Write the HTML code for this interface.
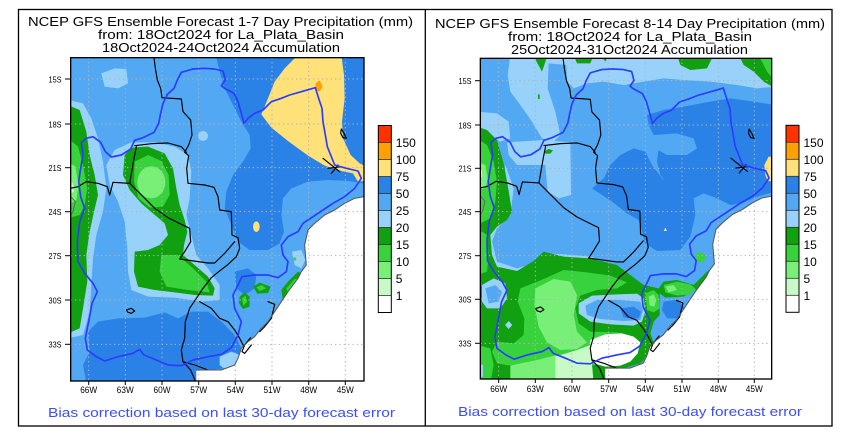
<!DOCTYPE html>
<html><head><meta charset="utf-8"><style>html,body{margin:0;padding:0;background:#fff;}svg{display:block}</style></head>
<body>
<svg xmlns="http://www.w3.org/2000/svg" xmlns:xlink="http://www.w3.org/1999/xlink" width="842" height="441" viewBox="0 0 842 441" font-family="'Liberation Sans', sans-serif">
<defs>
  <g id="coast">
    <path d="M888,425 L860,430 L830,445 L800,465 L770,480 L740,505 L720,525 L710,570 L715,630 L700,650 L690,670 L660,710 L640,740 L620,770 L600,800 L580,820 L560,845 L540,860 L520,880 L510,910 L500,930 L460,945 L420,945 L385,945 L385,985 L895,985 L895,425 Z" fill="#fff"/>
  </g>
  <g id="lines" fill="none" stroke-linejoin="round" stroke-linecap="round">
    <g stroke="#000" stroke-width="3.5">
      <path d="M258,8 L262,40 L268,75 L278,100 L282,128 L340,132 L345,170 L368,195 L372,240 L362,270 L350,292 L362,302 L356,340 L360,385 L410,390 L438,397 L450,425 L455,465 L490,470 L492,540 L510,548 L515,580 L505,605 L478,630 L452,650 L430,668 L405,700 L385,730 L365,760 L352,800 L350,850 L340,885 L345,920 L368,945 L382,978"/>
      <path d="M200,272 L250,266 L300,264 L340,275 L355,292"/>
      <path d="M205,275 L198,310 L192,345 L185,385"/>
      <path d="M185,385 L135,382 L125,420 L118,395 L90,385 L55,380 L30,395 L8,400"/>
      <path d="M185,385 L220,420 L260,460 L300,488 L340,508 L365,520 L368,560 L350,590 L335,612 L420,624 L440,624 L470,595 L500,560"/>
      <path d="M395,740 L430,760 L455,790 L480,800 L500,825 L515,850 L528,875"/>
      <path d="M345,920 L380,930 L420,945"/>
      <path d="M175,765 L190,760 L200,768 L190,775 L180,772 Z"/>
      <path d="M820,222 L828,235 L835,250 L825,248 L818,235 Z"/>
      <path d="M765,310 L815,350 M790,355 L810,330 M780,340 L820,335"/>
      <path d="M600,740 L620,748 L610,790 L590,815 L575,830"/>
      <path d="M548,848 L530,870 L522,890 L530,895 L550,870"/>
    </g>
    <path d="M888,425 L860,430 L830,445 L800,465 L770,480 L740,505 L720,525 L710,570 L715,630 L700,650 L690,670 L660,710 L640,740 L620,770 L600,800 L580,820 L560,845 L540,860 L520,880 L510,910 L500,930 L460,945 L420,945 L385,945" stroke="#555" stroke-width="3"/>
    <path d="M8,425 L22,440 L15,470 L8,480" stroke="#666" stroke-width="3"/>
    <g stroke="#2a3cff" stroke-width="5">
      <path d="M375,42 L340,52 L328,75 L318,100 L298,118 L285,145 L278,175 L272,205 L258,232 L225,248 L200,256 L188,282 L160,300 L130,306 L112,290 L98,262 L75,245 L55,250 L40,262 L45,300 L38,340 L32,380 L38,425 L50,460 L35,500 L28,560 L30,620 L50,655 L75,685 L88,710 L72,745 L62,800 L52,850 L58,885 L85,905 L110,918 L150,905 L195,895 L215,883 L228,900 L265,915 L300,930 L340,932 L375,915 L420,905 L460,898 L490,878 L510,840 L520,800 L500,760 L495,720 L510,690 L522,665 L560,660 L600,660 L630,668 L655,650 L660,620 L645,600 L640,570 L660,545 L690,530 L705,505 L735,485 L765,465 L795,445 L830,425 L860,400 L880,370 L870,348 L835,340 L800,330 L790,305 L778,275 L772,240 L765,200 L762,160 L752,130 L742,98"/>
      <path d="M742,98 L700,110 L665,120 L640,130 L610,140 L585,165 L560,175 L540,190 L528,205 L520,175 L510,140 L498,115 L470,100 L460,92 L472,75 L465,48 L440,42 L408,40 L375,42"/>
    </g>
  </g>
  <g id="cb">
    <rect x="0" y="0" width="13" height="17" fill="#ff3200"/>
    <rect x="0" y="17" width="13" height="17" fill="#ffa000"/>
    <rect x="0" y="34" width="13" height="17" fill="#ffe17a"/>
    <rect x="0" y="51" width="13" height="17" fill="#2a82e6"/>
    <rect x="0" y="68" width="13" height="17" fill="#52a8f2"/>
    <rect x="0" y="85" width="13" height="17" fill="#98d2fa"/>
    <rect x="0" y="102" width="13" height="17" fill="#10a010"/>
    <rect x="0" y="119" width="13" height="17" fill="#37d23c"/>
    <rect x="0" y="136" width="13" height="17" fill="#78f078"/>
    <rect x="0" y="153" width="13" height="17" fill="#c8fac8"/>
    <rect x="0" y="170" width="13" height="17" fill="#fff"/>
    <g stroke="#333" stroke-width="0.8">
      <line x1="0" y1="17" x2="13" y2="17"/><line x1="0" y1="34" x2="13" y2="34"/><line x1="0" y1="51" x2="13" y2="51"/>
      <line x1="0" y1="68" x2="13" y2="68"/><line x1="0" y1="85" x2="13" y2="85"/><line x1="0" y1="102" x2="13" y2="102"/>
      <line x1="0" y1="119" x2="13" y2="119"/><line x1="0" y1="136" x2="13" y2="136"/><line x1="0" y1="153" x2="13" y2="153"/>
      <line x1="0" y1="170" x2="13" y2="170"/>
    </g>
    <rect x="0" y="0" width="13" height="187" fill="none" stroke="#000" stroke-width="1"/>
    <g font-size="12" fill="#000">
      <text x="17.5" y="21.5">150</text><text x="17.5" y="38.5">100</text><text x="17.5" y="55.5">75</text>
      <text x="17.5" y="72.5">50</text><text x="17.5" y="89.5">25</text><text x="17.5" y="106.5">20</text>
      <text x="17.5" y="123.5">15</text><text x="17.5" y="140.5">10</text><text x="17.5" y="157.5">5</text>
      <text x="17.5" y="174.5">1</text>
    </g>
  </g>
</defs>

<!-- panel borders -->
<rect x="18.5" y="9.5" width="813.5" height="416.5" fill="none" stroke="#000" stroke-width="1.3"/>
<line x1="425.3" y1="9.5" x2="425.3" y2="426" stroke="#000" stroke-width="1.3"/>

<!-- titles -->
<g font-size="12.5" fill="#000" style="white-space:pre">
  <text x="28" y="26" textLength="385" lengthAdjust="spacingAndGlyphs">NCEP GFS Ensemble Forecast 1-7 Day Precipitation (mm)</text>
  <text x="98" y="39" textLength="246" lengthAdjust="spacingAndGlyphs">from: 18Oct2024   for La_Plata_Basin</text>
  <text x="102" y="52" textLength="238" lengthAdjust="spacingAndGlyphs">18Oct2024-24Oct2024 Accumulation</text>
  <text x="435" y="28" textLength="390" lengthAdjust="spacingAndGlyphs">NCEP GFS Ensemble Forecast 8-14 Day Precipitation (mm)</text>
  <text x="508" y="41" textLength="244" lengthAdjust="spacingAndGlyphs">from: 18Oct2024   for La_Plata_Basin</text>
  <text x="511" y="54" textLength="237" lengthAdjust="spacingAndGlyphs">25Oct2024-31Oct2024 Accumulation</text>
</g>
<g font-size="12.5" fill="#3a4dff">
  <text x="48" y="417" textLength="347" lengthAdjust="spacingAndGlyphs">Bias correction based on last 30-day forecast error</text>
  <text x="458" y="416" textLength="344" lengthAdjust="spacingAndGlyphs">Bias correction based on last 30-day forecast error</text>
</g>

<!-- LEFT MAP -->
<svg x="68" y="55" width="300" height="330" viewBox="0 0 900 990">
  <defs><clipPath id="c1"><rect x="8" y="8" width="880" height="970"/></clipPath></defs>
  <g clip-path="url(#c1)">
    <rect x="0" y="0" width="900" height="990" fill="#52a8f2"/>
    <!-- dark blue -->
    <path d="M445,8 L888,8 L888,385 L840,378 L780,375 L720,380 L670,400 L645,430 L640,480 L648,530 L635,565 L600,585 L545,585 L510,560 L490,510 L470,460 L475,410 L495,360 L525,320 L548,280 L545,240 L520,200 L495,150 L470,100 L455,50 Z" fill="#2a82e6"/>
    <path d="M60,830 L90,800 L150,790 L230,788 L290,772 L330,790 L370,770 L420,770 L460,800 L500,840 L520,880 L500,920 L470,940 L420,945 L385,945 L385,985 L55,985 L45,930 L65,890 Z" fill="#2a82e6"/>
    <path d="M500,650 L540,640 L565,660 L560,700 L530,720 L505,700 Z" fill="#2a82e6"/>
    <!-- light blue -->
    <path d="M100,55 L140,40 L175,42 L180,85 L150,100 L110,95 Z" fill="#98d2fa"/>
    <ellipse cx="405" cy="243" rx="15" ry="15" fill="#98d2fa"/>
    <path d="M0,135 L45,145 L70,190 L90,250 L105,320 L115,400 L105,470 L85,540 L75,610 L70,690 L65,770 L45,840 L0,850 Z" fill="#98d2fa"/>
    <path d="M115,330 L140,285 L190,262 L260,262 L320,275 L360,300 L370,350 L365,430 L355,480 L370,540 L385,600 L420,640 L455,690 L455,735 L400,740 L320,728 L240,725 L190,705 L180,650 L178,580 L170,500 L150,440 L125,390 Z" fill="#98d2fa"/>
    <path d="M455,905 L490,890 L515,900 L505,935 L470,942 L455,930 Z" fill="#98d2fa"/>
    <path d="M672,590 L700,585 L712,615 L700,640 L680,630 Z" fill="#98d2fa"/>
    <!-- left strip greens -->
    <path d="M0,150 L35,165 L55,230 L65,300 L80,360 L90,420 L78,470 L65,530 L55,600 L58,680 L45,760 L35,820 L0,835 Z" fill="#10a010"/>
    <path d="M0,250 L30,275 L45,330 L58,400 L50,450 L35,480 L0,490 Z" fill="#37d23c"/>
    <path d="M0,320 L22,335 L32,390 L25,435 L0,450 Z" fill="#78f078"/>
    <path d="M0,375 L15,385 L18,410 L0,420 Z" fill="#c8fac8"/>
    <!-- central greens -->
    <path d="M170,300 L190,278 L240,275 L290,295 L315,340 L325,400 L335,450 L350,495 L358,530 L348,570 L345,600 L380,630 L420,665 L440,700 L435,722 L380,720 L320,712 L260,705 L210,695 L198,650 L200,590 L240,585 L275,570 L300,540 L290,505 L255,475 L220,445 L185,405 L165,360 Z" fill="#10a010"/>
    <path d="M200,320 L240,300 L280,318 L302,360 L305,420 L285,455 L245,458 L212,430 L198,380 Z" fill="#37d23c"/>
    <ellipse cx="250" cy="382" rx="42" ry="48" fill="#78f078"/>
    <path d="M280,600 L330,600 L375,640 L415,680 L425,712 L360,705 L295,695 L275,650 Z" fill="#37d23c"/>
    <path d="M555,695 L575,683 L608,695 L600,714 L568,716 Z" fill="#10a010"/>
    <path d="M565,697 L580,690 L595,700 L575,708 Z" fill="#37d23c"/>
    <path d="M515,725 L530,712 L545,725 L545,755 L525,762 L513,745 Z" fill="#10a010"/>
    <path d="M522,730 L532,722 L538,740 L526,752 Z" fill="#37d23c"/>
    <path d="M640,705 L660,680 L690,650 L702,655 L692,692 L665,722 L645,738 Z" fill="#10a010"/>
    <path d="M655,700 L680,672 L690,670 L680,695 L660,715 Z" fill="#37d23c"/>
    <circle cx="680" cy="612" r="5" fill="#37d23c"/>
    <!-- yellow / orange -->
    <path d="M690,0 L820,0 L828,60 L830,130 L822,200 L825,250 L848,300 L875,325 L895,335 L895,378 L870,380 L855,355 L820,348 L770,332 L720,302 L660,258 L610,218 L580,178 L600,130 L620,80 L650,40 Z" fill="#ffe17a"/>
    <path d="M742,85 L755,76 L764,95 L755,110 L745,105 Z" fill="#ffa000"/>
    <ellipse cx="565" cy="515" rx="10" ry="16" fill="#ffe17a"/>
    <use xlink:href="#coast"/>
    <!-- grid -->
    <g stroke="#b4b4b4" stroke-width="3" stroke-dasharray="4 9">
      <line x1="62" y1="8" x2="62" y2="978"/><line x1="172" y1="8" x2="172" y2="978"/><line x1="282" y1="8" x2="282" y2="978"/>
      <line x1="392" y1="8" x2="392" y2="978"/><line x1="502" y1="8" x2="502" y2="978"/><line x1="612" y1="8" x2="612" y2="978"/>
      <line x1="722" y1="8" x2="722" y2="978"/><line x1="832" y1="8" x2="832" y2="978"/>
      <line x1="8" y1="72" x2="888" y2="72"/><line x1="8" y1="207" x2="888" y2="207"/><line x1="8" y1="338" x2="888" y2="338"/>
      <line x1="8" y1="470" x2="888" y2="470"/><line x1="8" y1="602" x2="888" y2="602"/><line x1="8" y1="735" x2="888" y2="735"/>
      <line x1="8" y1="868" x2="888" y2="868"/>
    </g>
    <use xlink:href="#lines"/>
  </g>
  <rect x="8" y="8" width="880" height="970" fill="none" stroke="#000" stroke-width="4"/>
</svg>

<!-- RIGHT MAP -->
<svg x="477" y="55" width="300" height="330" viewBox="0 0 900 990">
  <defs><clipPath id="c2"><rect x="10" y="10" width="874" height="962"/></clipPath></defs>
  <g clip-path="url(#c2)">
    <rect x="0" y="0" width="900" height="990" fill="#52a8f2"/>
    <!-- light blue top band -->
    <path d="M100,0 L895,0 L895,95 L840,100 L780,90 L700,80 L620,75 L560,70 L500,80 L440,90 L380,80 L330,85 L290,100 L270,80 L268,30 L215,25 L212,100 L235,170 L250,240 L228,262 L195,250 L165,200 L130,150 L100,110 L92,60 Z" fill="#98d2fa"/>
    <path d="M0,170 L60,175 L95,200 L100,250 L70,260 L40,240 L0,215 Z" fill="#98d2fa"/>
    <!-- dark blue -->
    <path d="M510,180 L560,165 L620,155 L700,140 L760,130 L830,140 L895,150 L895,410 L840,425 L795,445 L760,450 L720,430 L680,415 L650,430 L620,425 L580,400 L550,360 L540,320 L545,280 L530,240 L515,210 Z" fill="#2a82e6"/>
    <path d="M530,240 L600,235 L650,250 L660,280 L630,300 L570,300 L535,280 Z" fill="#52a8f2"/>
    <path d="M345,400 L380,370 L400,330 L430,300 L470,280 L505,290 L525,330 L555,370 L600,410 L650,430 L655,480 L640,545 L610,585 L540,588 L505,565 L485,495 L450,475 L405,440 Z" fill="#2a82e6"/>
    <!-- light blue center-left -->
    <path d="M90,262 L200,255 L280,262 L282,420 L245,430 L212,410 L205,330 L120,330 L95,300 Z" fill="#98d2fa"/>
    <path d="M85,330 L110,400 L100,480 L60,520 L45,560 L60,620 L120,640 L180,622 L210,595 L260,598 L340,605 L365,612 L330,628 L200,612 L170,650 L110,690 L55,670 L32,600 L38,520 L60,470 L78,400 Z" fill="#98d2fa"/>
    <!-- greens -->
    <path d="M0,215 L30,225 L60,255 L80,325 L92,390 L105,470 L90,495 L60,515 L40,540 L45,600 L60,635 L120,648 L170,618 L200,590 L260,605 L340,610 L420,630 L460,660 L500,690 L545,700 L560,680 L600,675 L650,690 L690,650 L702,640 L700,700 L665,740 L630,770 L600,800 L570,840 L540,870 L520,895 L490,925 L440,940 L385,950 L385,985 L0,985 Z" fill="#10a010"/>
    <path d="M0,250 L30,270 L50,320 L60,380 L55,440 L40,490 L0,510 Z" fill="#37d23c"/>
    <path d="M0,320 L25,330 L32,370 L25,400 L0,405 Z" fill="#78f078"/>
    <path d="M0,340 L14,345 L16,365 L0,370 Z" fill="#c8fac8"/>
    <path d="M0,520 L30,540 L35,600 L30,650 L0,660 Z" fill="#37d23c"/>
    <path d="M130,700 L200,672 L260,645 L330,652 L400,662 L450,682 L420,700 L360,705 L310,722 L295,760 L305,805 L340,830 L420,832 L470,845 L492,870 L470,900 L420,922 L340,932 L250,950 L180,940 L120,935 L60,925 L45,890 L60,860 L110,865 L140,840 L142,790 L122,740 Z" fill="#37d23c"/>
    <path d="M0,870 L40,880 L50,930 L40,985 L0,985 Z" fill="#37d23c"/>
    <path d="M175,700 L230,672 L280,680 L300,720 L290,780 L300,830 L330,862 L300,882 L250,885 L210,862 L185,815 L172,750 Z" fill="#78f078"/>
    <path d="M100,932 L180,915 L240,900 L240,985 L100,985 Z" fill="#78f078"/>
    <path d="M235,905 L300,885 L340,870 L350,985 L235,985 Z" fill="#c8fac8"/>
    <!-- blue pockets -->
    <path d="M15,690 L50,670 L85,685 L90,730 L70,760 L30,760 L15,740 Z" fill="#98d2fa"/>
    <path d="M25,700 L55,690 L75,710 L65,740 L35,745 Z" fill="#52a8f2"/>
    <path d="M95,798 L106,810 L95,822 L84,810 Z" fill="#98d2fa"/>
    <path d="M0,925 L18,930 L18,965 L0,968 Z" fill="#98d2fa"/>
    <path d="M305,745 L345,722 L420,718 L480,716 L500,730 L505,770 L495,800 L470,812 L400,808 L340,800 L305,775 Z" fill="#98d2fa"/>
    <path d="M325,752 L360,735 L430,735 L490,740 L498,765 L490,795 L440,798 L370,792 L330,780 Z" fill="#52a8f2"/>
    <path d="M430,760 L470,755 L492,770 L485,790 L440,788 Z" fill="#2a82e6"/>
    <path d="M548,715 L565,728 L620,725 L655,702 L668,730 L640,765 L610,790 L580,830 L555,855 L530,862 L520,835 L530,800 L548,780 Z" fill="#52a8f2"/>
    <path d="M560,740 L600,735 L625,760 L600,790 L570,790 L555,765 Z" fill="#2a82e6"/>
    <path d="M505,715 L530,705 L545,720 L548,760 L530,772 L510,765 Z" fill="#37d23c"/>
    <path d="M515,725 L530,718 L538,735 L532,755 L518,752 Z" fill="#78f078"/>
    <path d="M560,690 L600,680 L640,688 L655,700 L640,718 L600,722 L565,712 Z" fill="#37d23c"/>
    <path d="M565,695 L590,690 L600,705 L575,712 Z" fill="#78f078"/>
    <path d="M652,600 L670,590 L688,605 L680,622 L660,620 Z" fill="#37d23c"/>
    <!-- top greens -->
    <path d="M168,0 L212,0 L195,50 Z" fill="#10a010"/>
    <path d="M290,0 L350,0 L340,25 L300,25 Z" fill="#10a010"/>
    <path d="M370,0 L395,0 L385,20 Z" fill="#10a010"/>
    <path d="M600,0 L710,0 L690,40 L640,45 L610,30 Z" fill="#10a010"/>
    <path d="M785,0 L895,0 L895,100 L860,80 L830,50 L800,30 Z" fill="#10a010"/>
    <path d="M845,0 L895,0 L895,80 L870,50 Z" fill="#37d23c"/>
    <path d="M200,290 L215,282 L228,286 L220,296 L205,296 Z" fill="#10a010"/>
    <rect x="183" y="118" width="5" height="14" fill="#10a010"/>
    <!-- yellow -->
    <path d="M862,330 L875,305 L895,305 L895,380 L872,378 L865,360 Z" fill="#ffe17a"/>
    <path d="M565,518 L570,528 L560,528 Z" fill="#ffe17a"/>
    <use xlink:href="#coast" transform="translate(10,10) scale(0.9932,0.9918) translate(-8,-8)"/>
    <path d="M340,855 L385,838 L435,835 L470,845 L490,862 L482,895 L460,920 L430,932 L385,935 L350,925 L340,890 Z" fill="#fff"/>
    <!-- grid -->
    <g stroke="#b4b4b4" stroke-width="3" stroke-dasharray="4 9">
      <line x1="65" y1="10" x2="65" y2="972"/><line x1="175" y1="10" x2="175" y2="972"/><line x1="285" y1="10" x2="285" y2="972"/>
      <line x1="395" y1="10" x2="395" y2="972"/><line x1="505" y1="10" x2="505" y2="972"/><line x1="615" y1="10" x2="615" y2="972"/>
      <line x1="724" y1="10" x2="724" y2="972"/><line x1="832" y1="10" x2="832" y2="972"/>
      <line x1="10" y1="77" x2="884" y2="77"/><line x1="10" y1="210" x2="884" y2="210"/><line x1="10" y1="340" x2="884" y2="340"/>
      <line x1="10" y1="470" x2="884" y2="470"/><line x1="10" y1="602" x2="884" y2="602"/><line x1="10" y1="733" x2="884" y2="733"/>
      <line x1="10" y1="865" x2="884" y2="865"/>
    </g>
    <use xlink:href="#lines" transform="translate(10,10) scale(0.9932,0.9918) translate(-8,-8)"/>
  </g>
  <rect x="10" y="10" width="874" height="962" fill="none" stroke="#000" stroke-width="4"/>
</svg>

<!-- ticks & labels left -->
<g stroke="#000" stroke-width="1">
  <line x1="65" y1="79" x2="70.7" y2="79"/><line x1="65" y1="124" x2="70.7" y2="124"/><line x1="65" y1="167.7" x2="70.7" y2="167.7"/>
  <line x1="65" y1="211.7" x2="70.7" y2="211.7"/><line x1="65" y1="255.7" x2="70.7" y2="255.7"/><line x1="65" y1="300" x2="70.7" y2="300"/>
  <line x1="65" y1="344.3" x2="70.7" y2="344.3"/>
  <line x1="88.7" y1="381" x2="88.7" y2="385"/><line x1="125.3" y1="381" x2="125.3" y2="385"/><line x1="162" y1="381" x2="162" y2="385"/>
  <line x1="198.7" y1="381" x2="198.7" y2="385"/><line x1="235.3" y1="381" x2="235.3" y2="385"/><line x1="272" y1="381" x2="272" y2="385"/>
  <line x1="308.7" y1="381" x2="308.7" y2="385"/><line x1="345.3" y1="381" x2="345.3" y2="385"/>
  <line x1="475" y1="80.7" x2="480.3" y2="80.7"/><line x1="475" y1="125" x2="480.3" y2="125"/><line x1="475" y1="168.3" x2="480.3" y2="168.3"/>
  <line x1="475" y1="211.7" x2="480.3" y2="211.7"/><line x1="475" y1="255.7" x2="480.3" y2="255.7"/><line x1="475" y1="299.3" x2="480.3" y2="299.3"/>
  <line x1="475" y1="343.3" x2="480.3" y2="343.3"/>
  <line x1="498.7" y1="379" x2="498.7" y2="383"/><line x1="535.3" y1="379" x2="535.3" y2="383"/><line x1="572" y1="379" x2="572" y2="383"/>
  <line x1="608.7" y1="379" x2="608.7" y2="383"/><line x1="645.3" y1="379" x2="645.3" y2="383"/><line x1="682" y1="379" x2="682" y2="383"/>
  <line x1="718.3" y1="379" x2="718.3" y2="383"/><line x1="754.3" y1="379" x2="754.3" y2="383"/>
</g>
<g font-size="8" fill="#000" text-anchor="end">
  <text x="61.5" y="82.5" textLength="13" lengthAdjust="spacingAndGlyphs">15S</text>
  <text x="61.5" y="127.3" textLength="13" lengthAdjust="spacingAndGlyphs">18S</text>
  <text x="61.5" y="171" textLength="13" lengthAdjust="spacingAndGlyphs">21S</text>
  <text x="61.5" y="215" textLength="13" lengthAdjust="spacingAndGlyphs">24S</text>
  <text x="61.5" y="259" textLength="13" lengthAdjust="spacingAndGlyphs">27S</text>
  <text x="61.5" y="303.3" textLength="13" lengthAdjust="spacingAndGlyphs">30S</text>
  <text x="61.5" y="347.6" textLength="13" lengthAdjust="spacingAndGlyphs">33S</text>
  <text x="471.5" y="84" textLength="13" lengthAdjust="spacingAndGlyphs">15S</text>
  <text x="471.5" y="128.3" textLength="13" lengthAdjust="spacingAndGlyphs">18S</text>
  <text x="471.5" y="171.6" textLength="13" lengthAdjust="spacingAndGlyphs">21S</text>
  <text x="471.5" y="215" textLength="13" lengthAdjust="spacingAndGlyphs">24S</text>
  <text x="471.5" y="259" textLength="13" lengthAdjust="spacingAndGlyphs">27S</text>
  <text x="471.5" y="302.6" textLength="13" lengthAdjust="spacingAndGlyphs">30S</text>
  <text x="471.5" y="346.6" textLength="13" lengthAdjust="spacingAndGlyphs">33S</text>
</g>
<g font-size="9.5" fill="#000" text-anchor="middle">
  <text x="88.7" y="393" textLength="17" lengthAdjust="spacingAndGlyphs">66W</text>
  <text x="125.3" y="393" textLength="17" lengthAdjust="spacingAndGlyphs">63W</text>
  <text x="162" y="393" textLength="17" lengthAdjust="spacingAndGlyphs">60W</text>
  <text x="198.7" y="393" textLength="17" lengthAdjust="spacingAndGlyphs">57W</text>
  <text x="235.3" y="393" textLength="17" lengthAdjust="spacingAndGlyphs">54W</text>
  <text x="272" y="393" textLength="17" lengthAdjust="spacingAndGlyphs">51W</text>
  <text x="308.7" y="393" textLength="17" lengthAdjust="spacingAndGlyphs">48W</text>
  <text x="345.3" y="393" textLength="17" lengthAdjust="spacingAndGlyphs">45W</text>
  <text x="498.7" y="392" textLength="17" lengthAdjust="spacingAndGlyphs">66W</text>
  <text x="535.3" y="392" textLength="17" lengthAdjust="spacingAndGlyphs">63W</text>
  <text x="572" y="392" textLength="17" lengthAdjust="spacingAndGlyphs">60W</text>
  <text x="608.7" y="392" textLength="17" lengthAdjust="spacingAndGlyphs">57W</text>
  <text x="645.3" y="392" textLength="17" lengthAdjust="spacingAndGlyphs">54W</text>
  <text x="682" y="392" textLength="17" lengthAdjust="spacingAndGlyphs">51W</text>
  <text x="718.3" y="392" textLength="17" lengthAdjust="spacingAndGlyphs">48W</text>
  <text x="754.3" y="392" textLength="17" lengthAdjust="spacingAndGlyphs">45W</text>
</g>

<!-- colorbars -->
<use xlink:href="#cb" transform="translate(378.3,125.5)"/>
<use xlink:href="#cb" transform="translate(786,125.3)"/>
</svg>
</body></html>
